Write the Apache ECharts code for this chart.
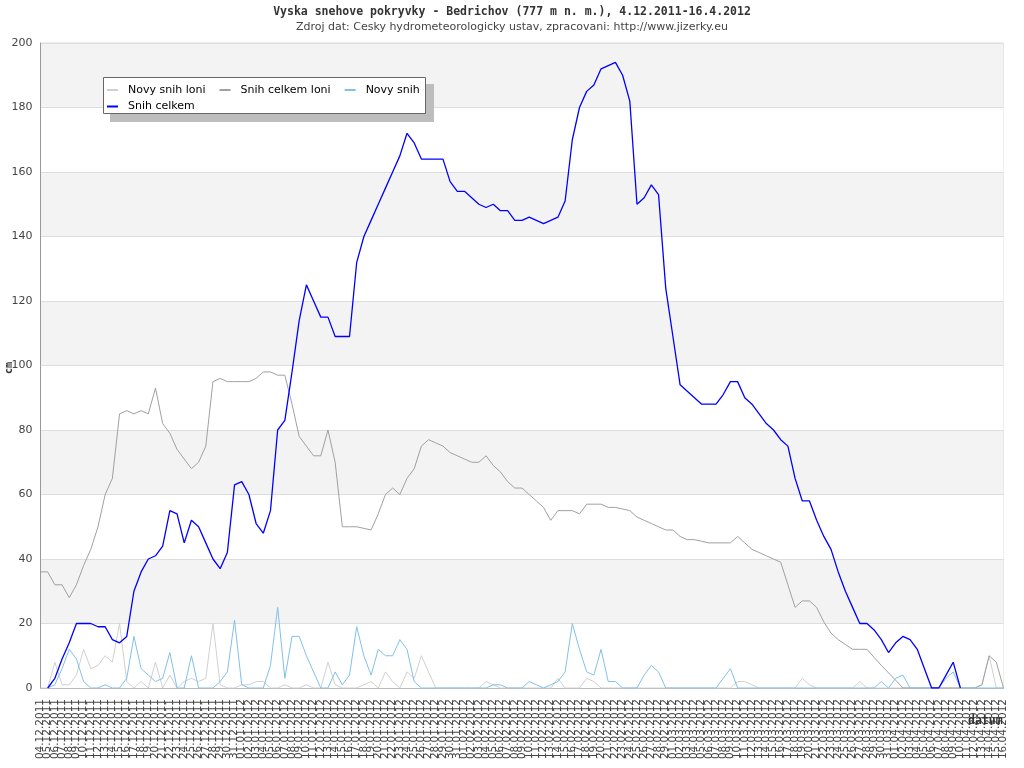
<!DOCTYPE html>
<html>
<head>
<meta charset="utf-8">
<script src="https://cdn.jsdelivr.net/npm/echarts@6/dist/echarts.min.js"></script>
<style>
html,body{margin:0;padding:0;background:#fff;}
#chart{width:1024px;height:768px;}
</style>
</head>
<body>
<div id="chart"></div>
<script>
// Categories: every day from 4.12.2011 to 16.4.2012
var startDate = new Date(2011, 11, 4);
var dayCount = 135;
var categories = [];
for (var i = 0; i < dayCount; i++) {
  var dt = new Date(startDate.getFullYear(), startDate.getMonth(), startDate.getDate() + i);
  var dd = ('0' + dt.getDate()).slice(-2);
  var mm = ('0' + (dt.getMonth() + 1)).slice(-2);
  categories.push(dd + '.' + mm + '.' + dt.getFullYear());
}

var seriesNames = ['Novy snih loni', 'Snih celkem loni', 'Novy snih', 'Snih celkem'];

var novySnihLoni = [
  0, 0, 8, 1, 1, 4, 12, 6, 7, 10,
  8, 20, 2, 0, 2, 0, 8, 0, 4, 0,
  2, 3, 2, 3, 20, 1, 0, 0, 1, 1,
  2, 2, 0, 0, 1, 0, 0, 1, 0, 0,
  8, 1, 0, 0, 0, 1, 2, 0, 5, 2,
  0, 5, 3, 10, 5, 0, 0, 0, 0, 0,
  0, 0, 2, 1, 0, 0, 0, 0, 0, 0,
  0, 0, 3, 0, 0, 0, 3, 2, 0, 0,
  0, 0, 0, 0, 0, 0, 0, 0, 0, 0,
  0, 0, 0, 0, 0, 0, 0, 2, 2, 1,
  0, 0, 0, 0, 0, 0, 3, 1, 0, 0,
  0, 0, 0, 0, 2, 0, 0, 0, 0, 0,
  0, 0, 0, 0, 0, 0, 0, 0, 0, 0,
  0, 1, 10, 0, 0
];

var snihCelkemLoni = [
  36, 36, 32, 32, 28, 32, 38, 43, 50, 60,
  65, 85, 86, 85, 86, 85, 93, 82, 79, 74,
  71, 68, 70, 75, 95, 96, 95, 95, 95, 95,
  96, 98, 98, 97, 97, 88, 78, 75, 72, 72,
  80, 70, 50, 50, 50, 49.5, 49, 54, 60, 62,
  60, 65, 68, 75, 77, 76, 75, 73, 72, 71,
  70, 70, 72, 69, 67, 64, 62, 62, 60, 58,
  56, 52, 55, 55, 55, 54, 57, 57, 57, 56,
  56, 55.5, 55, 53, 52, 51, 50, 49, 49, 47,
  46, 46, 45.5, 45, 45, 45, 45, 47, 45, 43,
  42, 41, 40, 39, 32, 25, 27, 27, 25, 20.5,
  17, 15, 13.5, 12, 12, 12, 9.5, 7, 4.7, 2.4,
  0, 0, 0, 0, 0, 0, 0, 0, 0, 0,
  0, 1, 10, 8, 0
];

var novySnih = [
  null, 0, 1, 6, 12, 9, 2, 0, 0, 1,
  0, 0, 3, 16, 6, 4, 2, 3, 11, 0,
  0, 10, 0, 0, 0, 2, 5, 21, 1, 0,
  0, 0, 7, 25, 3, 16, 16, 10, 5, 0,
  0, 5, 1, 4, 19, 10, 4, 12, 10, 10,
  15, 12, 2, 0, 0, 0, 0, 0, 0, 0,
  0, 0, 0, 1, 1, 0, 0, 0, 2, 1,
  0, 1, 2, 5, 20, 12, 5, 4, 12, 2,
  2, 0, 0, 0, 4, 7, 5, 0, 0, 0,
  0, 0, 0, 0, 0, 3, 6, 0, 0, 0,
  0, 0, 0, 0, 0, 0, 0, 0, 0, 0,
  0, 0, 0, 0, 0, 0, 0, 2, 0, 3,
  4, 0, 0, 0, 0, 0, 3, 5, 0, 0,
  0, 0, 0, 0, 0
];

var snihCelkem = [
  null, 0, 3, 9, 14, 20, 20, 20, 19, 19,
  15, 14, 16, 30, 36, 40, 41, 44, 55, 54,
  45, 52, 50, 45, 40, 37, 42, 63, 64, 60,
  51, 48, 55, 80, 83, 98, 114, 125, 120, 115,
  115, 109, 109, 109, 132, 140, 145, 150, 155, 160,
  165, 172, 169, 164, 164, 164, 164, 157, 154, 154,
  152, 150, 149, 150, 148, 148, 145, 145, 146, 145,
  144, 145, 146, 151, 170, 180, 185, 187, 192, 193,
  194, 190, 182, 150, 152, 156, 153, 124, 109, 94,
  92, 90, 88, 88, 88, 91, 95, 95, 90, 88,
  85, 82, 80, 77, 75, 65, 58, 58, 52, 47,
  43, 36, 30, 25, 20, 20, 18, 15, 11, 14,
  16, 15, 12, 6, 0, 0, 4, 8, 0, null,
  null, null, null, null, null
];

var yTicks = { min: 0, max: 200, interval: 20 };

var colors = ['#d0d0d0', '#a0a0a0', '#80c0ea', '#0000ff'];
var widths = [1, 1, 1, 1.3];
var dataSets = [novySnihLoni, snihCelkemLoni, novySnih, snihCelkem];

var legendIcon = 'path://M0,0h11v2h-11zM15.95,1.95h0.05v0.05h-0.05z';

var chart = echarts.init(document.getElementById('chart'), null, { renderer: 'canvas' });

var series = seriesNames.map(function (n, i) {
  return {
    name: n,
    type: 'line',
    data: dataSets[i],
    showSymbol: false,
    symbol: 'none',
    connectNulls: false,
    lineStyle: { color: colors[i], width: widths[i] },
    itemStyle: { color: colors[i] },
    emphasis: { disabled: true },
    z: 2 + i
  };
});

var legendText = { fontFamily: 'DejaVu Sans', fontSize: 11, color: '#000', lineHeight: 12 };

chart.setOption({
  animation: false,
  backgroundColor: '#fff',
  title: [
    {
      text: 'Vyska snehove pokryvky - Bedrichov (777 m n. m.), 4.12.2011-16.4.2012',
      left: 'center', top: 6, padding: 0,
      textStyle: { fontFamily: 'DejaVu Sans Mono', fontWeight: 'bold', fontSize: 11.5, color: '#333' }
    },
    {
      text: 'Zdroj dat: Cesky hydrometeorologicky ustav, zpracovani: http://www.jizerky.eu',
      left: 'center', top: 22, padding: 0,
      textStyle: { fontFamily: 'DejaVu Sans', fontWeight: 'normal', fontSize: 11, color: '#444' }
    }
  ],
  grid: {
    left: 40.5, right: 20.5, top: 43, bottom: 80,
    containLabel: false, outerBoundsMode: 'none',
    show: true, borderColor: '#ddd', borderWidth: 1, backgroundColor: 'transparent'
  },
  graphic: [
    { type: 'rect', shape: { x: 110, y: 84, width: 324, height: 38 }, style: { fill: '#bdbdbd' }, z: 10 },
    { type: 'rect', shape: { x: 103.5, y: 77.5, width: 322, height: 36 }, style: { fill: '#fff', stroke: '#666', lineWidth: 1 }, z: 11 },
    { type: 'text', left: 968, top: 715, z: 20,
      style: { text: 'datum', fontFamily: 'DejaVu Sans Mono', fontWeight: 'bold', fontSize: 11.5, fill: '#333' } },
    { type: 'text', x: 4, y: 374, rotation: Math.PI / 2, z: 20,
      style: { text: 'cm', fontFamily: 'DejaVu Sans Mono', fontWeight: 'bold', fontSize: 10, fill: '#333' } }
  ],
  legend: [
    {
      data: seriesNames.slice(0, 3), left: 107, top: 84, padding: 0, itemGap: 14,
      icon: legendIcon, itemWidth: 16, itemHeight: 2, z: 12,
      textStyle: legendText, selectedMode: false
    },
    {
      data: seriesNames.slice(3), left: 107, top: 100.5, padding: 0, itemGap: 14,
      icon: legendIcon, itemWidth: 16, itemHeight: 2, z: 12,
      textStyle: legendText, selectedMode: false
    }
  ],
  xAxis: {
    type: 'category',
    data: categories,
    boundaryGap: false,
    axisLine: { show: true, lineStyle: { color: '#bbb', width: 1 } },
    axisTick: { show: false },
    splitLine: { show: false },
    axisLabel: {
      interval: 0, rotate: 90, margin: 11, hideOverlap: false,
      fontFamily: 'DejaVu Sans', fontSize: 10.5, color: '#444'
    }
  },
  yAxis: {
    type: 'value',
    min: yTicks.min, max: yTicks.max, interval: yTicks.interval,
    axisLine: { show: true, lineStyle: { color: '#999', width: 1 } },
    axisTick: { show: false },
    axisLabel: { fontFamily: 'DejaVu Sans', fontSize: 11, color: '#444', margin: 8 },
    splitLine: { show: true, lineStyle: { color: '#ddd', width: 1 } },
    splitArea: { show: true, areaStyle: { color: ['#ffffff', '#f3f3f3'] } }
  },
  series: series
});
</script>
</body>
</html>
